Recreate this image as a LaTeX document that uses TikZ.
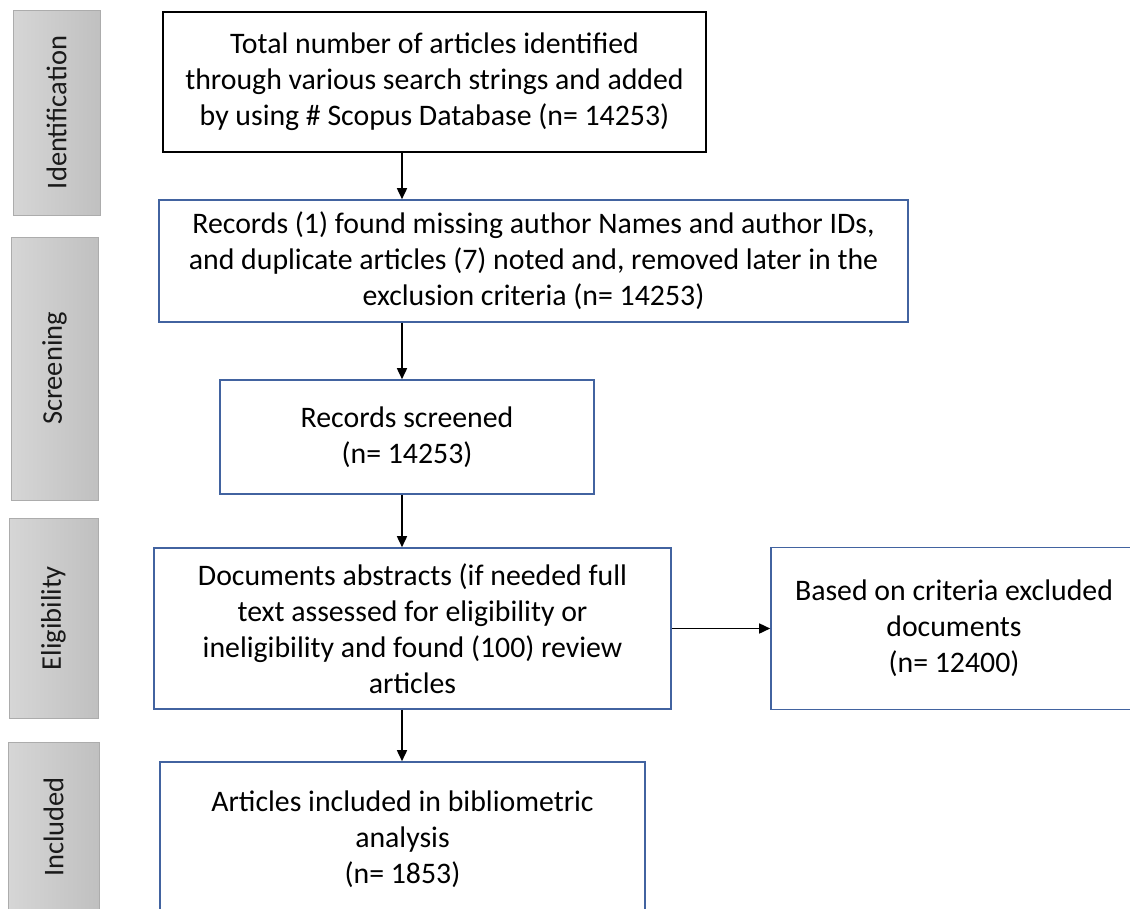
\documentclass[tikz,border=0pt]{standalone}
\usepackage{fontspec}
\setmainfont{Carlito}
\usetikzlibrary{arrows.meta}
\definecolor{boxblue}{RGB}{66,99,160}
\definecolor{phaseedge}{RGB}{172,172,172}
\definecolor{phaselight}{RGB}{214,214,214}
\definecolor{phasedark}{RGB}{192,192,192}

\begin{document}
\begin{tikzpicture}[x=1pt,y=-1pt]
\pgfmathsetmacro{\xArrow}{402}

\tikzstyle{stage}=[draw=boxblue,line width=1.6pt,align=center,inner sep=0pt,font=\fontsize{29.8}{36}\selectfont]
\tikzstyle{phase}=[draw=phaseedge,line width=1pt,left color=phaselight,right color=phasedark,inner sep=0pt]
\tikzstyle{phasetext}=[rotate=90,font=\fontsize{28.5}{34}\selectfont,text=black!90]
\tikzstyle{flow}=[line width=1.6pt,-{Triangle[length=11pt,width=10pt]}]
\useasboundingbox (0,0) rectangle (1130,908);

\node[phase,minimum width=87pt,minimum height=205pt] (identification) at (56.5,112.5) {};
\node[phase,minimum width=87pt,minimum height=263pt] (screening) at (54.5,368.5) {};
\node[phase,minimum width=89pt,minimum height=200pt] (eligibility) at (53.5,618) {};
\node[phase,minimum width=91pt,minimum height=170pt] (included) at (53.5,827) {};
\node[phasetext] at (identification) {Identification};
\node[phasetext] at (screening) {Screening};
\node[phasetext] at (eligibility) {Eligibility};
\node[phasetext] at (included) {Included};

\node[stage,draw=black,line width=2.2pt,minimum width=543pt,minimum height=140pt] (total) at (434.5,82) {Total number of articles identified\\through various search strings and added\\by using \# Scopus Database (n= 14253)};
\node[stage,minimum width=749pt,minimum height=122pt] (records) at (533.5,261) {Records (1) found missing author Names and author IDs,\\and duplicate articles (7) noted and, removed later in the\\exclusion criteria (n= 14253)};
\node[stage,minimum width=374pt,minimum height=114pt] (screened) at (407,437) {Records screened\\(n= 14253)};
\node[stage,minimum width=517pt,minimum height=161pt] (assessed) at (412.5,628.5) {Documents abstracts (if needed full\\text assessed for eligibility or\\ineligibility and found (100) review\\articles};
\node[stage,minimum width=366pt,minimum height=162pt] (excluded) at (954,628.5) {Based on criteria excluded\\documents\\(n= 12400)};
\node[stage,minimum width=485pt,minimum height=154pt] (bibliometric) at (402.5,839) {Articles included in bibliometric\\analysis\\(n= 1853)};

\coordinate (spine) at (\xArrow,0);
\draw[flow] (total.south -| spine) -- (records.north -| spine);
\draw[flow] (records.south -| spine) -- (screened.north -| spine);
\draw[flow] (screened.south -| spine) -- (assessed.north -| spine);
\draw[flow] (assessed.south -| spine) -- (bibliometric.north -| spine);
\draw[flow] (assessed.east) -- (excluded.west);
\end{tikzpicture}
\end{document}
